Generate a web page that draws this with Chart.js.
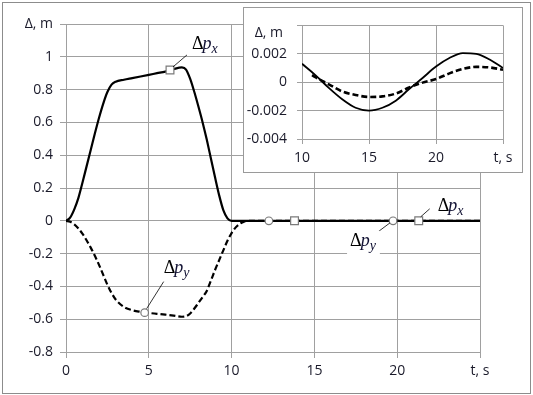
<!DOCTYPE html>
<html>
<head>
<meta charset="utf-8">
<script src="https://cdn.jsdelivr.net/npm/chart.js@4/dist/chart.umd.min.js"></script>
<style>
  html, body { margin: 0; padding: 0; background: #ffffff; }
  #wrap { position: relative; width: 533px; height: 395px; }
  #main { position: absolute; left: 0; top: 0; }
  #inset { position: absolute; left: 243px; top: 7px; }
</style>
</head>
<body>
<div id="wrap">
  <canvas id="main" width="533" height="395"></canvas>
  <canvas id="inset" width="280" height="166"></canvas>
</div>
<script>
// ---------- data (main chart) ----------
const mainT  = [0,0.25,0.5,0.75,1,1.25,1.5,1.75,2,2.25,2.5,2.75,3,3.5,4,4.5,5,5.5,6,6.5,7,7.25,7.5,7.75,8,8.25,8.5,8.75,9,9.25,9.5,9.75,10,10.25,10.5,10.75,11,12,13,14,15,16,17,18,19,20,21,22,23,24,25];
const mainPx = [0,0.02,0.07,0.14,0.235,0.335,0.435,0.535,0.63,0.715,0.785,0.83,0.848,0.86,0.87,0.88,0.89,0.90,0.91,0.925,0.935,0.922,0.865,0.785,0.695,0.60,0.495,0.38,0.265,0.155,0.065,0.015,0,0,0,0,0,0,0,0,0,0,0,0,0,0,0,0,0,0,0];
const mainPy = [0,-0.006,-0.022,-0.047,-0.08,-0.12,-0.165,-0.215,-0.27,-0.33,-0.39,-0.44,-0.48,-0.525,-0.545,-0.555,-0.562,-0.567,-0.572,-0.578,-0.585,-0.582,-0.565,-0.535,-0.5,-0.465,-0.428,-0.365,-0.3,-0.24,-0.18,-0.122,-0.075,-0.04,-0.018,-0.005,0,0,0,0,0,0,0,0,0,0,0,0,0,0,0];
// marker positions
const pxMarkT = [6.28, 13.8, 21.3];
const pxMarkV = [0.92, 0, 0];
const pyMarkT = [4.75, 12.25, 19.75];
const pyMarkV = [-0.56, 0, 0];
// axis ticks
const mainXTicks = [0, 5, 10, 15, 20, 25];
const mainYTicks = [-0.8, -0.6, -0.4, -0.2, 0, 0.2, 0.4, 0.6, 0.8, 1, 1.2];

// ---------- data (inset) ----------
const insetTx = [10,11,12,13,14,15,16,17,18,19,20,21,22,23,24,25];
const insetPx = [0.0013,0.0005,-0.0004,-0.0012,-0.0018,-0.002,-0.0018,-0.0013,-0.00048,0.0003,0.0011,0.0017,0.00205,0.002,0.0016,0.001];
const insetTy = [10.75,11,12,13,14,15,16,17,18,19,20,21,22,23,24,25];
const insetPy = [0.0005,0.00035,-0.00015,-0.00065,-0.0009,-0.00104,-0.001,-0.0008,-0.00037,-0.00003,0.00022,0.00062,0.00093,0.00108,0.00104,0.00088];
const insetXTicks = [10, 15, 20, 25];
const insetYTicks = [-0.004, -0.002, 0, 0.002, 0.004];

const GRID = '#a0a0a0';
const TXT = '#1a1a2a';
const TICKFONT = { family: '"Open Sans", "Liberation Sans", sans-serif', size: 14 };

function pts(xs, ys) { return xs.map((x, i) => ({ x: x, y: ys[i] })); }

// ---------- main chart ----------
const mainFrame = {
  id: 'mainFrame',
  beforeDraw(chart) {
    const c = chart.ctx;
    c.save();
    c.fillStyle = '#ffffff';
    c.fillRect(0, 0, chart.width, chart.height);
    c.strokeStyle = '#8c8c8c';
    c.lineWidth = 1;
    c.strokeRect(2.5, 2.5, 528, 391);
    c.restore();
  }
};

function drawDeltaLabel(c, x, base, sub, bg) {
  c.save();
  const f1 = '18px "Liberation Serif", "Times New Roman", serif';
  const f2 = 'italic 18px "Liberation Serif", "Times New Roman", serif';
  const f3 = 'italic 14px "Liberation Serif", "Times New Roman", serif';
  c.font = f1; const wD = c.measureText('\u0394').width;
  c.font = f2; const wP = c.measureText('p').width;
  c.font = f3; const wS = c.measureText(sub).width;
  if (bg) {
    c.fillStyle = '#ffffff';
    c.fillRect(x - 3, base - 15, wD + wP + wS + 6, 24);
  }
  c.textBaseline = 'alphabetic';
  c.textAlign = 'left';
  c.fillStyle = '#000000';
  c.font = f1; c.fillText('\u0394', x, base);
  c.fillStyle = '#111133';
  c.font = f2; c.fillText('p', x + wD - 1, base);
  c.font = f3; c.fillText(sub, x + wD + wP - 1, base + 4);
  c.restore();
}

function leader(c, x1, y1, x2, y2) {
  c.save();
  c.strokeStyle = '#000000';
  c.lineWidth = 0.8;
  c.beginPath();
  c.moveTo(x1, y1);
  c.lineTo(x2, y2);
  c.stroke();
  c.restore();
}

const annot = {
  id: 'annot',
  afterDatasetsDraw(chart) {
    const c = chart.ctx;
    const xs = chart.scales.x, ys = chart.scales.y;
    let mx = xs.getPixelForValue(pxMarkT[0]), my = ys.getPixelForValue(pxMarkV[0]);
    leader(c, mx + 3, my - 3, mx + 17, my - 15);
    drawDeltaLabel(c, mx + 22, my - 21, 'x', false);
    mx = xs.getPixelForValue(pyMarkT[0]); my = ys.getPixelForValue(pyMarkV[0]);
    leader(c, mx + 2, my - 4, mx + 19, my - 31);
    drawDeltaLabel(c, mx + 19, my - 40, 'y', false);
    mx = xs.getPixelForValue(pxMarkT[2]); my = ys.getPixelForValue(pxMarkV[2]);
    leader(c, mx + 2, my - 4, mx + 11, my - 12);
    drawDeltaLabel(c, mx + 19, my - 10, 'x', false);
    mx = xs.getPixelForValue(pyMarkT[2]); my = ys.getPixelForValue(pyMarkV[2]);
    leader(c, mx - 3, my + 2, mx - 19, my + 14);
    drawDeltaLabel(c, mx - 43, my + 25, 'y', true);
  }
};

new Chart(document.getElementById('main'), {
  type: 'line',
  data: {
    datasets: [
      {
        label: 'px markers', data: pts(pxMarkT, pxMarkV), showLine: false,
        pointStyle: 'rect', pointRadius: 5.5, pointBackgroundColor: '#ffffff',
        pointBorderColor: '#7a7a7a', pointBorderWidth: 1.2
      },
      {
        label: 'py markers', data: pts(pyMarkT, pyMarkV), showLine: false,
        pointStyle: 'circle', pointRadius: 3.8, pointBackgroundColor: '#ffffff',
        pointBorderColor: '#7a7a7a', pointBorderWidth: 1.2
      },
      {
        label: 'Δpx', data: pts(mainT, mainPx), borderColor: '#000000', borderWidth: 2.2,
        pointRadius: 0, cubicInterpolationMode: 'monotone', fill: false
      },
      {
        label: 'Δpy', data: pts(mainT, mainPy), borderColor: '#000000', borderWidth: 2.2,
        borderDash: [6, 3], pointRadius: 0, cubicInterpolationMode: 'monotone', fill: false
      }
    ]
  },
  options: {
    responsive: false,
    animation: false,
    devicePixelRatio: 1,
    events: [],
    layout: { padding: { left: 0, top: 24, right: 53, bottom: 0 } },
    plugins: { legend: { display: false }, tooltip: { enabled: false } },
    scales: {
      x: {
        type: 'linear', min: 0, max: 25,
        afterBuildTicks(s) { s.ticks = mainXTicks.map(v => ({ value: v })); },
        afterFit(s) { s.height = 43; },
        ticks: {
          font: TICKFONT, color: TXT, padding: 5, maxRotation: 0,
          callback(v) { return Math.abs(v - 25) < 1e-9 ? 't, s' : String(v); }
        },
        grid: { color: GRID, lineWidth: 1, tickLength: 6, drawTicks: true },
        border: { color: GRID, width: 1 }
      },
      y: {
        type: 'linear', min: -0.8, max: 1.2,
        afterBuildTicks(s) { s.ticks = mainYTicks.map(v => ({ value: v })); },
        afterFit(s) { s.width = 66; },
        ticks: {
          font: TICKFONT, color: TXT, padding: 7,
          callback(v) {
            const r = Math.round(v * 10) / 10;
            if (Math.abs(r - 1.2) < 1e-9) return '\u0394, m';
            return String(r === 0 ? 0 : r);
          }
        },
        grid: { color: GRID, lineWidth: 1, tickLength: 6, drawTicks: true },
        border: { color: GRID, width: 1 }
      }
    }
  },
  plugins: [mainFrame, annot]
});

// ---------- inset chart ----------
const insetFrame = {
  id: 'insetFrame',
  beforeDraw(chart) {
    const c = chart.ctx;
    c.save();
    c.fillStyle = '#ffffff';
    c.fillRect(0, 0, chart.width, chart.height);
    c.strokeStyle = '#9a9a9a';
    c.lineWidth = 1;
    c.strokeRect(0.5, 0.5, chart.width - 1, chart.height - 1);
    c.restore();
  },
  afterDraw(chart) {
    const c = chart.ctx;
    const ys = chart.scales.y;
    c.save();
    c.font = '14px "Open Sans", "Liberation Sans", sans-serif';
    c.fillStyle = TXT;
    c.textAlign = 'right';
    c.textBaseline = 'middle';
    c.fillText('\u0394, m', 40, ys.getPixelForValue(0.004) + 8);
    c.restore();
  }
};

new Chart(document.getElementById('inset'), {
  type: 'line',
  data: {
    datasets: [
      {
        label: 'Δpx', data: pts(insetTx, insetPx), borderColor: '#000000', borderWidth: 1.8,
        pointRadius: 0, cubicInterpolationMode: 'monotone', fill: false
      },
      {
        label: 'Δpy', data: pts(insetTy, insetPy), borderColor: '#000000', borderWidth: 2.6,
        borderDash: [6, 3], pointRadius: 0, cubicInterpolationMode: 'monotone', fill: false
      }
    ]
  },
  options: {
    responsive: false,
    animation: false,
    devicePixelRatio: 1,
    events: [],
    layout: { padding: { left: 0, top: 10, right: 20, bottom: 0 } },
    plugins: { legend: { display: false }, tooltip: { enabled: false } },
    scales: {
      x: {
        type: 'linear', min: 10, max: 25,
        afterBuildTicks(s) { s.ticks = insetXTicks.map(v => ({ value: v })); },
        afterFit(s) { s.height = 34; },
        ticks: {
          font: TICKFONT, color: TXT, padding: 6, maxRotation: 0,
          callback(v) { return Math.abs(v - 25) < 1e-9 ? 't, s' : String(v); }
        },
        grid: { color: GRID, lineWidth: 1, tickLength: 5, drawTicks: true },
        border: { color: GRID, width: 1 }
      },
      y: {
        type: 'linear', min: -0.004, max: 0.004,
        afterBuildTicks(s) { s.ticks = insetYTicks.map(v => ({ value: v })); },
        afterFit(s) { s.width = 59; },
        ticks: {
          font: TICKFONT, color: TXT, padding: 10,
          callback(v) {
            if (Math.abs(v - 0.004) < 1e-9) return '';
            if (Math.abs(v) < 1e-9) return '0';
            return v.toFixed(3);
          }
        },
        grid: { color: GRID, lineWidth: 1, tickLength: 5, drawTicks: true },
        border: { color: GRID, width: 1 }
      }
    }
  },
  plugins: [insetFrame]
});
</script>
</body>
</html>
